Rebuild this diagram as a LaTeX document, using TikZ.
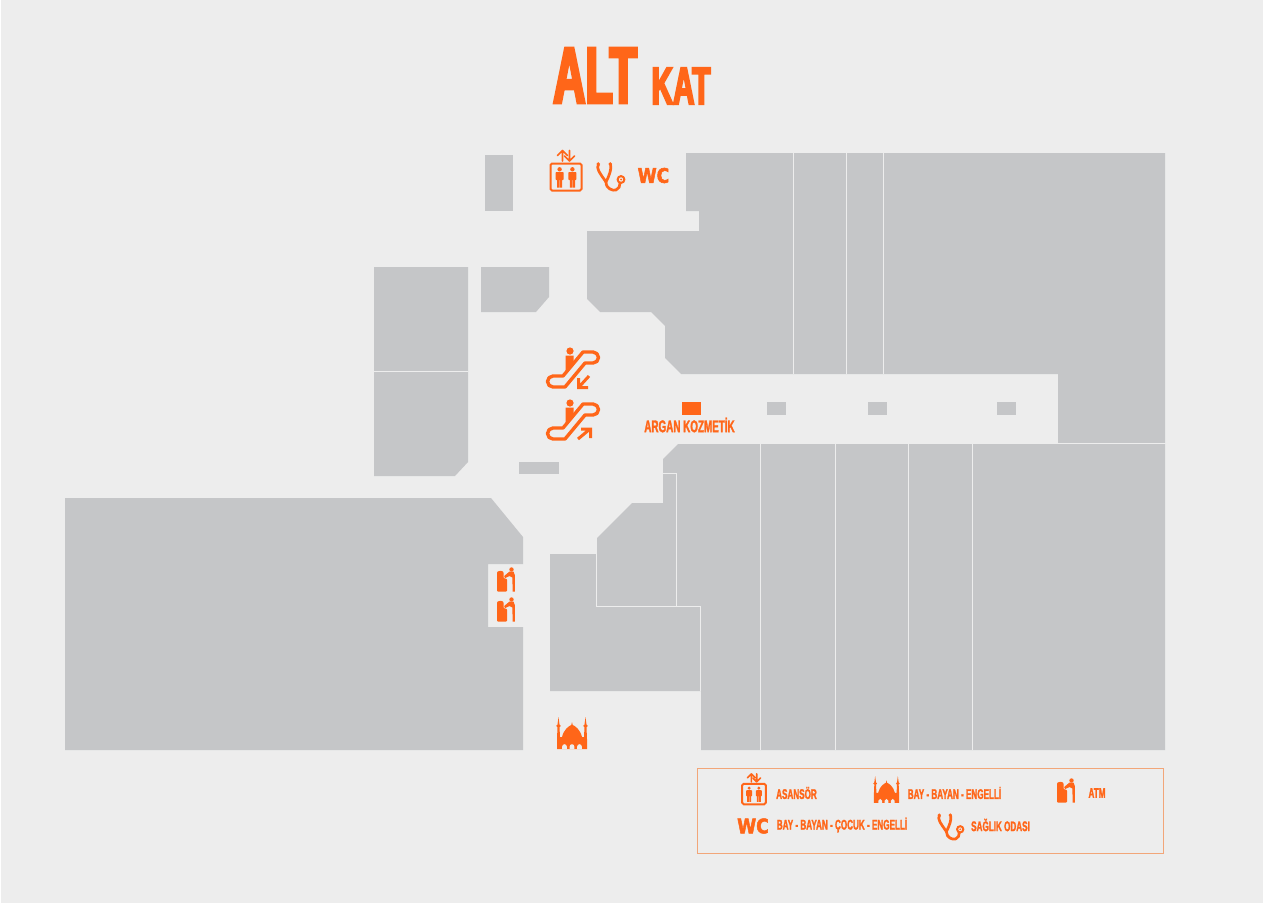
\documentclass[tikz,border=0pt]{standalone}
\usepackage{fontspec}
\setmainfont{Liberation Sans}
\newfontface\signfont[FakeStretch=.58,FakeBold=1.5]{Liberation Sans Bold}
\newfontface\titlefont[FakeStretch=.56,FakeBold=3.5]{Liberation Sans Bold}
\newfontface\wcfont[FakeStretch=.86,FakeBold=2.5]{DejaVu Sans Bold}
\definecolor{pagegray}{HTML}{EDEDED}
\definecolor{shopgray}{HTML}{C5C6C8}
\definecolor{signorange}{HTML}{FF6619}
\definecolor{framered}{HTML}{F2A679}
\newcommand{\escbody}{
  \draw[esc line] (-21,9) -- (-11,9) -- (9,-15) -- (19,-15)
    arc[start angle=-90,end angle=90,radius=5.5] -- (11,-4) -- (-9,20) -- (-21,20)
    arc[start angle=90,end angle=270,radius=5.5] -- cycle;
  \fill[signorange] (-4,-16) circle (3.6);
  \fill[signorange] (-8.5,-11.5) -- (-.5,-11.5) -- (-.5,-5) -- (-8.5,4) -- cycle;
}
\tikzset{
  shop/.style={fill=shopgray,draw=none},
  wall/.style={draw=pagegray,line width=0.9pt},
  sign/.style={fill=signorange,draw=none},
  esc line/.style={draw=signorange,line width=3.4pt,line join=round},
  thin sign/.style={draw=signorange,line width=1.7pt,line cap=round,line join=round},
  label text/.style={font=\signfont\fontsize{14}{14}\selectfont,text=signorange,inner sep=0pt},
  title text/.style={text=signorange,inner sep=0pt},
  wc text/.style={font=\wcfont\fontsize{20}{20}\selectfont,text=signorange,inner sep=0pt},
  pics/liftsign/.style={code={
    \draw[draw=signorange,line width=2pt,rounded corners=1.5pt] (-15.5,-13.5) rectangle (15.5,13.5);
    \draw[thin sign] (-3.5,-16) -- (-3.5,-26.5) (-8.5,-21.5) -- (-3.5,-26.5) -- (1.5,-21.5);
    \draw[thin sign] (3.5,-26.5) -- (3.5,-16) (-1.5,-21) -- (3.5,-16) -- (8.5,-21);
    \foreach \px in {-6.4,6.4} {
      \fill[signorange] (\px,-7.7) circle (2.2);
      \fill[signorange,rounded corners=.8pt] (\px-4,-5) rectangle (\px+4,3);
      \fill[signorange] (\px-2.6,2) rectangle (\px-.3,10.5) (\px+.3,2) rectangle (\px+2.6,10.5);
    }
  }},
  pics/stethsign/.style={code={
    \draw[thin sign,line width=2.7pt] (-12.5,-12.5) .. controls (-15,-9) and (-12,-5) .. (-5,5)
      .. controls (-2,-1) and (1,-8) .. (-.5,-13);
    \draw[thin sign,line width=2.7pt] (-5,5) .. controls (-5,12) and (2,14) .. (5,13)
      .. controls (8,12) and (9,9) .. (9,6);
    \fill[signorange] (-12.8,-13) circle (1.9) (-.8,-13) circle (1.9);
    \draw[signorange,line width=2pt] (10,2.5) circle (3.4);
    \fill[signorange] (10,2.5) circle (1);
  }},
  pics/mosquesign/.style={code={
    \fill[signorange] (-15,16) -- (-15,6) -- (-14.5,-6) -- (-15.8,-7) -- (-14.5,-8.5) -- (-13.5,-16)
      -- (-12.5,-8.5) -- (-11.2,-7) -- (-12.5,-6) -- (-12,4) -- (-10,4)
      .. controls (-8,-4) and (-3,-7) .. (-.7,-8) -- (0,-11) -- (.7,-8)
      .. controls (3,-7) and (8,-4) .. (10,4) -- (12,4) -- (12.5,-6) -- (11.2,-7) -- (12.5,-8.5) -- (13.5,-16)
      -- (14.5,-8.5) -- (15.8,-7) -- (14.5,-6) -- (15,6) -- (15,16) -- cycle;
    \foreach \ax in {-7.5,0,7.5} {
      \fill[pagegray] (\ax-2.3,16.2) -- (\ax-2.3,13.5) arc[start angle=180,end angle=360,radius=2.3] -- (\ax+2.3,16.2) -- cycle;
    }
  }},
  pics/atmsign/.style={code={
    \fill[signorange,rounded corners=.8pt] (-9,11.5) -- (-9,-8) .. controls (-7,-9.5) and (-4,-9.5) .. (-2.5,-8) -- (-2.5,-2) -- (1,-1) -- (1,11.5) -- cycle;
    \fill[signorange] (5.5,-10.5) circle (2.2);
    \fill[signorange] (3.5,-8.5) -- (7.5,-8.5) -- (8.8,-5) -- (8.8,11.5) -- (6.6,11.5) -- (6.4,-2.5) -- (3.5,-4) -- (-1,-1.8) -- (-1.8,-4) -- cycle;
  }},
  pics/escdown/.style={code={
    \escbody
    \draw[thin sign,line width=3pt,line cap=butt,line join=miter] (15,9) -- (5,20) (4.5,11) -- (4.5,20.5) -- (14,20.5);
  }},
  pics/escup/.style={code={
    \escbody
    \draw[thin sign,line width=3pt,line cap=butt,line join=miter] (4,20) -- (16,10) (7,10) -- (16.5,10) -- (16.5,19);
  }}
}
\begin{document}
\begin{tikzpicture}[x=1pt,y=-1pt]
\useasboundingbox (0,0) rectangle (1263,903);
\fill[pagegray] (0,0) rectangle (1263,903);
\draw[white,line width=1pt] (.5,0) -- (.5,903);
% shops
\fill[shop] (485,155) rectangle (513,211);
\fill[shop] (587,231) -- (699,231) -- (699,211) -- (686,211) -- (686,153) -- (1165,153)
  -- (1165,443) -- (1058,443) -- (1058,374) -- (681,374) -- (665,358) -- (665,326)
  -- (651,312) -- (600,312) -- (587,299) -- cycle;
\fill[shop] (678,444) -- (1165,444) -- (1165,750) -- (701,750) -- (701,691) -- (550,691)
  -- (550,554) -- (597,554) -- (597,538) -- (632,503) -- (663,503) -- (663,459) -- cycle;
\fill[shop] (374,267) -- (468,267) -- (468,462) -- (455,476) -- (374,476) -- cycle;
\fill[shop] (481,267) -- (549,267) -- (549,297) -- (536,312) -- (481,312) -- cycle;
\fill[shop] (65,498) -- (491,498) -- (523,537) -- (523,564) -- (488,564) -- (488,627)
  -- (523,627) -- (523,750) -- (65,750) -- cycle;
% kiosks
\fill[shop] (519,462) rectangle (559,474);
\foreach \kx in {767,868,997} {
  \fill[shop] (\kx,402) rectangle +(19,13);
}
\fill[sign] (682,402) rectangle (701,415);
% shop borders
\foreach \wx in {793,846,883} {
  \draw[wall] (\wx,153) -- (\wx,374);
}
\foreach \wx in {760,835,908,972} {
  \draw[wall] (\wx,444) -- (\wx,750);
}
\draw[wall] (374,371) -- (468,371);
\draw[wall] (1058,443.5) -- (1165,443.5);
\draw[wall] (663,473.5) -- (676.5,473.5) -- (676.5,606.5);
\draw[wall] (596.5,538) -- (596.5,606.5) -- (700.8,606.5) -- (700.8,691);
% title
\node[title text,font=\titlefont\fontsize{80}{80}\selectfont] (alt) at (595,75.5) {ALT};
\node[title text,font=\titlefont\fontsize{53}{53}\selectfont] (kat) at (681,86) {KAT};
\node[label text,font=\signfont\fontsize{17}{17}\selectfont] (argan) at (689.5,425) {ARGAN KOZMETİK};
% signs on the plan
\pic at (566,177) {liftsign};
\pic at (611,177) {stethsign};
\node[wc text] (wctop) at (653.5,175.5) {WC};
\pic at (574,367) {escdown};
\pic at (574,419) {escup};
\pic at (506,580) {atmsign};
\pic at (506,610) {atmsign};
\pic at (572,733) {mosquesign};
% legend
\draw[framered,line width=1pt] (697.5,768) rectangle (1163,853);
\pic[scale=.76] at (754,794) {liftsign};
\pic[scale=.84] at (886.5,789.5) {mosquesign};
\pic at (1066,791) {atmsign};
\pic[scale=.92] at (951,827) {stethsign};
\node[label text] (asansor) at (796.5,793) {ASANSÖR};
\node[label text] (mescit) at (954.5,793) {BAY - BAYAN - ENGELLİ};
\node[label text] (atm) at (1097,793) {ATM};
\node[wc text] (wclegend) at (753,826) {WC};
\node[label text] (tuvalet) at (842,825) {BAY - BAYAN - ÇOCUK - ENGELLİ};
\node[label text] (saglik) at (1000.5,825) {SAĞLIK ODASI};
\end{tikzpicture}
\end{document}
